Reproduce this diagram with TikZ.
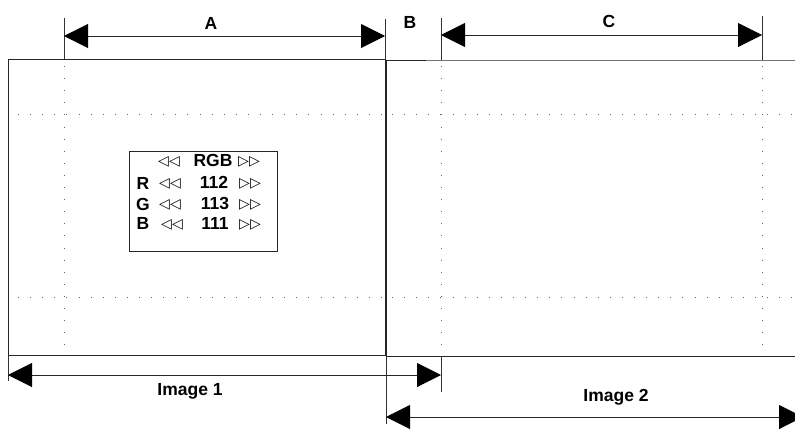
\documentclass[tikz,border=0pt]{standalone}
\usepackage{fontspec}
\setmainfont{Liberation Sans}
\newfontfamily\symfont{DejaVu Sans}
\usetikzlibrary{arrows.meta}
\begin{document}
\begin{tikzpicture}[x=1pt,y=-1pt,
  frame/.style={line width=1pt, draw=black!85},
  ext/.style={line width=1pt, draw=black!80},
  dots/.style={draw=black!60, line width=0.9pt, dash pattern=on 0.9pt off 11.2pt},
  dim/.style={line width=1pt, draw=black!85, {Triangle[length=24pt,width=24pt,fill=black,color=black]}-{Triangle[length=24pt,width=24pt,fill=black,color=black]}},
  lab/.style={font=\fontsize{17.5}{20}\selectfont\bfseries, inner sep=0pt},
  tri/.style={font=\fontsize{14}{16}\selectfont\symfont, inner sep=0pt}
]
\useasboundingbox (0,0) rectangle (795,429);
% frame coordinates
\coordinate (i1tl) at (8,59);
\coordinate (i1br) at (385,355);
\coordinate (i2tl) at (386,60);
\coordinate (i2tr) at (795,60);
\coordinate (i2bl) at (386,356);
\coordinate (i2br) at (795,356);
% Image 1 frame
\draw[frame] (i1tl) rectangle (i1br);
% Image 2 frame
\draw[frame, draw=black!55] (426,60) -- (i2tr);
\draw[frame] (426,60) -- (i2tl) -- (i2bl) -- (i2br);
% dotted guides image 1
\draw[dots] (18,114) -- (385,114);
\draw[dots] (18,297) -- (385,297);
\draw[dots] (64,66) -- (64,352);
% dotted guides image 2
\draw[dots] (392,114) -- (795,114);
\draw[dots] (392,297) -- (795,297);
\draw[dots] (441,66) -- (441,352);
\draw[dots] (762,66) -- (762,352);
% extension lines top
\coordinate (a1) at (64,36);
\coordinate (a2) at (385,36);
\coordinate (c1) at (441,35);
\coordinate (c2) at (762,35);
\draw[ext] (64,18) -- (64,59);
\draw[ext] (385,19) -- (385,59);
\draw[ext] (441,18) -- (441,60);
\draw[ext] (762,16) -- (762,60);
\draw[dim] (a1) -- (a2);
\draw[dim] (c1) -- (c2);
\node[lab] (labA) at (211,23) {A};
\node[lab] (labB) at (410,22) {B};
\node[lab] (labC) at (609,21) {C};
% extension lines bottom
\coordinate (d1) at (8,375);
\coordinate (d2) at (441,375);
\coordinate (e1) at (386,417);
\coordinate (e2) at (803,417);
\draw[ext] (8,355) -- (8,381);
\draw[ext] (441,356) -- (441,392);
\draw[ext] (386,356) -- (386,424);
\draw[dim] (d1) -- (d2);
\draw[dim] (e1) -- (e2);
\node[lab] (img1) at (190,391) {Image 1};
\node[lab] (img2) at (616,397) {Image 2};
% RGB box
\node[draw=black!85, line width=1pt, minimum width=148pt, minimum height=100pt, inner sep=0pt] (box) at (203,201) {};
\node[tri] (t1l) at (169,162) {◁◁};
\node[lab] (rgb) at (213,160) {RGB};
\node[tri] (t1r) at (249,162) {▷▷};
\node[lab] (lR) at (143,183) {R};
\node[tri] (t2l) at (170,184) {◁◁};
\node[lab] (v112) at (214,182) {112};
\node[tri] (t2r) at (250,184) {▷▷};
\node[lab] (lG) at (143,204) {G};
\node[tri] (t3l) at (170,205) {◁◁};
\node[lab] (v113) at (215,203) {113};
\node[tri] (t3r) at (250,205) {▷▷};
\node[lab] (lB) at (143,223) {B};
\node[tri] (t4l) at (172,225) {◁◁};
\node[lab] (v111) at (215,223) {111};
\node[tri] (t4r) at (250,225) {▷▷};
\end{tikzpicture}
\end{document}
